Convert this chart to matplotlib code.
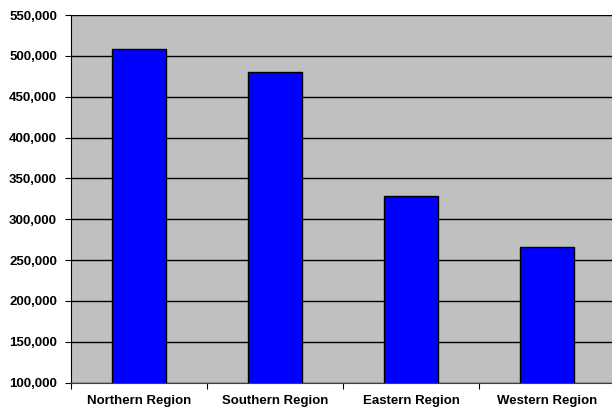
import matplotlib
matplotlib.use("Agg")
import matplotlib.pyplot as plt
from matplotlib.ticker import FuncFormatter, MultipleLocator

regions = ["Northern Region", "Southern Region", "Eastern Region", "Western Region"]
sales = [509000, 480000, 328000, 266000]

plt.rcParams["font.family"] = ["Liberation Sans", "DejaVu Sans"]

fig = plt.figure(figsize=(6.12, 4.09), dpi=100)
fig.patch.set_facecolor("white")
ax = fig.add_axes([71 / 612, 26.3 / 409, 544 / 612, 367.7 / 409])
ax.set_facecolor("#C0C0C0")

x = list(range(len(regions)))
ax.bar(x, sales, width=0.4, color="#0000FF", edgecolor="black", linewidth=1.0,
       zorder=3, bottom=0)

ax.set_xlim(-0.5, len(regions) - 0.5)
ax.set_ylim(100000, 550000)
ax.yaxis.set_major_locator(MultipleLocator(50000))
ax.yaxis.set_major_formatter(FuncFormatter(lambda v, p: f"{int(v):,}"))
ax.grid(axis="y", color="black", linewidth=1.0, zorder=1)
ax.set_axisbelow(True)

ax.set_xticks([i + 0.5 for i in range(-1, len(regions))], minor=False)
ax.set_xticklabels([])
ax.set_xticks(x, minor=True)
ax.set_xticklabels(regions, minor=True, fontsize=9.5, fontweight="bold")
ax.tick_params(axis="x", which="minor", length=0, pad=9)
ax.tick_params(axis="x", which="major", length=4, direction="out", color="black")
ax.tick_params(axis="y", length=4, direction="out", color="black", pad=6)
for lab in ax.get_yticklabels():
    lab.set_fontsize(9.5)
    lab.set_fontweight("bold")

for side in ["top", "right"]:
    ax.spines[side].set_visible(False)
ax.spines["left"].set_color("black")
ax.spines["bottom"].set_color("#404040")

fig.savefig("out.png", dpi=100)
